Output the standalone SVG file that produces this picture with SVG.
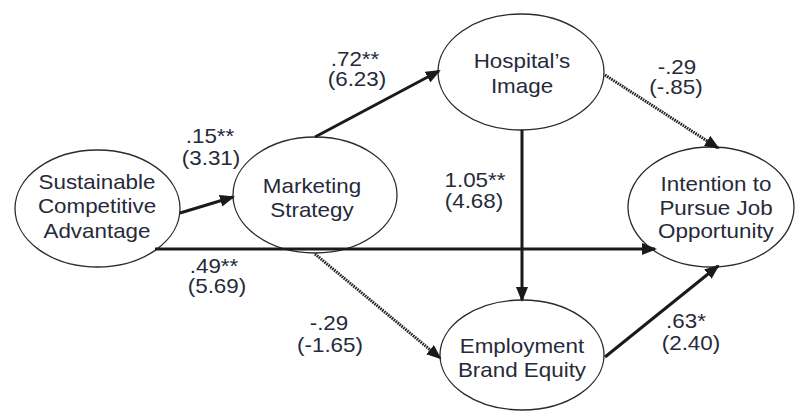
<svg xmlns="http://www.w3.org/2000/svg" width="795" height="412" viewBox="0 0 795 412">
<style>
.node ellipse{fill:#fff;stroke:#2a2a2a;stroke-width:1.3}
text{font-family:"Liberation Sans",Arial,sans-serif;font-size:20px;fill:#262a3a;text-anchor:middle;transform-box:fill-box;transform-origin:center;transform:scaleX(1.12)}
.c{fill:none;stroke:#1a1a1a;stroke-width:3;marker-end:url(#ah)}
.d{stroke-width:3;stroke:#222;stroke-dasharray:1.6 0.9}
</style>
<defs>
<marker id="ah" markerUnits="userSpaceOnUse" markerWidth="15" markerHeight="12" refX="13" refY="6" orient="auto">
<path d="M0,0 L15,6 L0,12 z" fill="#1a1a1a"/>
</marker>
</defs>
<rect width="795" height="412" fill="#fff"/>
<g id="sca" class="node">
<ellipse cx="97.5" cy="208.5" rx="82.5" ry="58.5"/>
<text x="97" y="189">Sustainable</text>
<text x="97" y="213.5">Competitive</text>
<text x="97" y="238">Advantage</text>
</g>
<g id="ms" class="node">
<ellipse cx="315" cy="195" rx="82" ry="58"/>
<text x="312" y="193">Marketing</text>
<text x="312" y="217">Strategy</text>
</g>
<g id="hi" class="node">
<ellipse cx="521" cy="72" rx="83" ry="58"/>
<text x="522" y="68">Hospital’s</text>
<text x="522" y="93">Image</text>
</g>
<g id="ipjo" class="node">
<ellipse cx="711" cy="207" rx="83" ry="60"/>
<text x="716" y="191">Intention to</text>
<text x="716" y="215">Pursue Job</text>
<text x="716" y="238">Opportunity</text>
</g>
<g id="ebe" class="node">
<ellipse cx="522" cy="355" rx="82" ry="55"/>
<text x="522" y="353">Employment</text>
<text x="522" y="377">Brand Equity</text>
</g>
<g id="connectors">
<line class="c" x1="180" y1="213" x2="233" y2="197"/>
<line class="c" x1="315" y1="137" x2="439" y2="71"/>
<line class="c d" x1="605" y1="75" x2="718" y2="148"/>
<line class="c" x1="522" y1="130" x2="522" y2="300"/>
<line class="c" x1="155" y1="249" x2="655" y2="249"/>
<line class="c d" x1="315" y1="254" x2="440" y2="358"/>
<line class="c" x1="605" y1="357" x2="718" y2="266"/>
</g>
<g id="labels">
<text x="210" y="143">.15**</text>
<text x="211" y="165">(3.31)</text>
<text x="355" y="66">.72**</text>
<text x="357" y="86">(6.23)</text>
<text x="677" y="74">-.29</text>
<text x="676" y="94">(-.85)</text>
<text x="475" y="187">1.05**</text>
<text x="474" y="208">(4.68)</text>
<text x="214" y="273">.49**</text>
<text x="217" y="293">(5.69)</text>
<text x="329" y="330">-.29</text>
<text x="330" y="352">(-1.65)</text>
<text x="686" y="328">.63*</text>
<text x="691" y="350">(2.40)</text>
</g>
</svg>
